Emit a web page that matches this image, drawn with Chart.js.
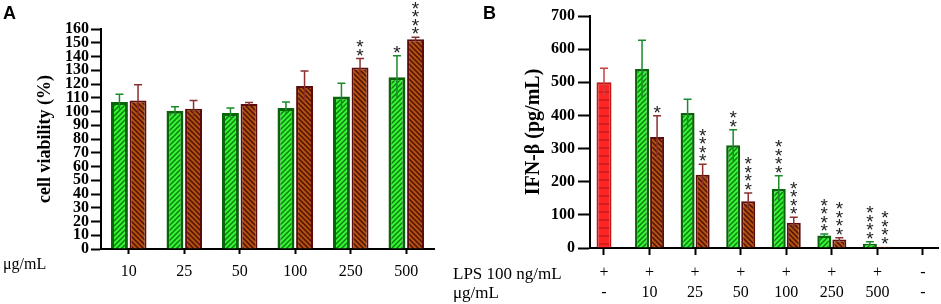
<!DOCTYPE html>
<html>
<head>
<meta charset="utf-8">
<script src="https://cdn.jsdelivr.net/npm/chart.js@4.4.0/dist/chart.umd.min.js"></script>
<style>
  html, body { margin: 0; padding: 0; background: #fff; }
  #wrap { position: relative; width: 941px; height: 304px; overflow: hidden; }
  canvas { position: absolute; top: 0; }
  #viability { left: 0; }
  #ifn { left: 450px; }
</style>
</head>
<body>
<div id="wrap">
  <canvas id="viability" width="450" height="304"></canvas>
  <canvas id="ifn" width="491" height="304"></canvas>
</div>
<script>
// Panel A - cell viability
const doseLabels = ["10", "25", "50", "100", "250", "500"];
const viabGreen = [107, 100.5, 99, 102.5, 111, 125];
const viabGreenSD = [5.5, 3, 3.5, 4.5, 9.5, 15.5];
const viabGreenStars = ["", "", "", "", "", "*"];
const viabBrown = [108, 102, 105.5, 118.5, 132, 152.5];
const viabBrownSD = [11.5, 6, 1, 11, 6.5, 1.5];
const viabBrownStars = ["", "", "", "", "**", "****"];

// Panel B - IFN-beta
const lpsRow = ["+", "+", "+", "+", "+", "+", "+", "-"];
const doseRow = ["-", "10", "25", "50", "100", "250", "500", "-"];
const ifnLps = [500, null, null, null, null, null, null, null];
const ifnLpsSD = [42, null, null, null, null, null, null, null];
const ifnGreen = [null, 540, 407, 310, 178, 38, 13, null];
const ifnGreenSD = [null, 87, 42, 47, 40, 4, 6, null];
const ifnGreenStars = ["", "", "", "**", "****", "****", "****", ""];
const ifnBrown = [null, 335, 221, 141, 76, 26, 4, null];
const ifnBrownSD = [null, 64, 32, 25, 17, 5, 0, null];
const ifnBrownStars = ["", "*", "****", "****", "****", "****", "****", ""];

Chart.defaults.font.family = "'Liberation Serif', 'Times New Roman', serif";
Chart.defaults.color = "#000";

// hatch fills like the GraphPad bars
function hatch(ctx, bg, fg, dir, size, lw) {
  const c = document.createElement("canvas");
  c.width = size;
  c.height = size;
  const g = c.getContext("2d");
  g.fillStyle = bg;
  g.fillRect(0, 0, size, size);
  g.strokeStyle = fg;
  g.lineWidth = lw;
  g.beginPath();
  if (dir === "h") {
    g.moveTo(0, size / 2);
    g.lineTo(size, size / 2);
  } else if (dir === "/") {
    g.moveTo(-1, size + 1);
    g.lineTo(size + 1, -1);
    g.moveTo(-2, 2);
    g.lineTo(2, -2);
    g.moveTo(size - 2, size + 2);
    g.lineTo(size + 2, size - 2);
  } else {
    g.moveTo(-1, -1);
    g.lineTo(size + 1, size + 1);
    g.moveTo(-2, size - 2);
    g.lineTo(2, size + 2);
    g.moveTo(size - 2, -2);
    g.lineTo(size + 2, 2);
  }
  g.stroke();
  return ctx.createPattern(c, "repeat");
}

// error bars + significance stars
const errorBars = {
  id: "errorBars",
  afterDatasetsDraw(chart) {
    const ctx = chart.ctx;
    const yScale = chart.scales.y;
    ctx.save();
    chart.data.datasets.forEach((ds, i) => {
      const meta = chart.getDatasetMeta(i);
      meta.data.forEach((bar, j) => {
        const raw = ds.data[j];
        const val = raw !== null && typeof raw === "object" ? raw.y : raw;
        if (val === null || val === undefined) return;
        const err = (ds.errors && ds.errors[j]) || 0;
        const top = yScale.getPixelForValue(val + err);
        if (err > 0) {
          const low = yScale.getPixelForValue(Math.max(val - err, 0));
          ctx.strokeStyle = ds.errorColor;
          ctx.lineWidth = 1.5;
          ctx.beginPath();
          ctx.moveTo(bar.x, low);
          ctx.lineTo(bar.x, top);
          ctx.moveTo(bar.x - 4, top);
          ctx.lineTo(bar.x + 4, top);
          ctx.stroke();
        }
        const stars = ds.stars ? ds.stars[j] : "";
        ctx.fillStyle = "#222";
        ctx.font = "19px 'Liberation Sans'";
        ctx.textAlign = "center";
        ctx.textBaseline = "alphabetic";
        for (let k = 0; k < stars.length; k++) {
          const cy = top - 8 - k * 8.5;
          ctx.fillText("*", bar.x, cy + 11);
        }
      });
    });
    ctx.restore();
  }
};

// panel letter and row captions
const panelText = {
  id: "panelText",
  afterDraw(chart, args, opts) {
    const ctx = chart.ctx;
    ctx.save();
    ctx.fillStyle = "#000";
    ctx.textAlign = "left";
    ctx.textBaseline = "alphabetic";
    ctx.font = "bold 18px 'Liberation Sans'";
    ctx.fillText(opts.letter, opts.letterX, 19);
    opts.rows.forEach((r) => {
      ctx.font = r.size + "px 'Liberation Serif'";
      ctx.fillText(r.text, 3, r.y);
    });
    ctx.restore();
  }
};

const axisGrid = (len) => ({
  drawOnChartArea: false,
  offset: false,
  tickLength: len,
  tickWidth: 2,
  tickColor: "#000"
});
const axisBorder = { color: "#000", width: 2 };

// Panel A chart
const ctxA = document.getElementById("viability").getContext("2d");
new Chart(ctxA, {
  type: "bar",
  data: {
    labels: doseLabels,
    datasets: [
      {
        data: viabGreen,
        backgroundColor: hatch(ctxA, "#33f533", "#0d7a0d", "/", 5, 1.4),
        borderColor: "#0a640a",
        borderWidth: 3,
        errors: viabGreenSD,
        errorColor: "#1a8a2a",
        stars: viabGreenStars
      },
      {
        data: viabBrown,
        backgroundColor: hatch(ctxA, "#b4500f", "#4a1005", "\\", 5, 1.4),
        borderColor: "#5c0c0c",
        borderWidth: 2,
        errors: viabBrownSD,
        errorColor: "#8a3030",
        stars: viabBrownStars
      }
    ]
  },
  options: {
    responsive: false,
    animation: false,
    events: [],
    categoryPercentage: 0.67,
    barPercentage: 0.91,
    layout: { padding: { top: 29, right: 16, bottom: 0, left: 0 } },
    plugins: {
      legend: { display: false },
      tooltip: { enabled: false },
      panelText: {
        letter: "A",
        letterX: 3,
        rows: [{ text: "μg/mL", y: 269, size: 16 }]
      }
    },
    scales: {
      x: {
        offset: true,
        grid: axisGrid(5),
        border: axisBorder,
        ticks: { font: { size: 16 }, padding: 8, maxRotation: 0, autoSkip: false },
        afterFit: (s) => { s.height = 55; }
      },
      y: {
        min: 0,
        max: 160,
        ticks: {
          stepSize: 10,
          autoSkip: false,
          padding: 2,
          font: { size: 16, weight: "bold", lineHeight: 1 }
        },
        grid: axisGrid(10),
        border: axisBorder,
        title: {
          display: true,
          text: "cell viability (%)",
          font: { size: 18, weight: "bold" },
          padding: { top: 35, bottom: 0 }
        },
        afterFit: (s) => { s.width = 101; }
      }
    }
  },
  plugins: [errorBars, panelText]
});

// Panel B chart
const toPoints = (arr) => arr.map((y, i) => ({ x: i, y: y }));
const ctxB = document.getElementById("ifn").getContext("2d");
new Chart(ctxB, {
  type: "bar",
  data: {
    datasets: [
      {
        data: toPoints(ifnLps),
        backgroundColor: hatch(ctxB, "#ff2525", "#b81818", "h", 8, 1.2),
        borderColor: "#c01515",
        borderWidth: 2,
        maxBarThickness: 15,
        errors: ifnLpsSD,
        errorColor: "#c84040"
      },
      {
        data: toPoints(ifnGreen),
        backgroundColor: hatch(ctxB, "#33f533", "#0d7a0d", "/", 5, 1.4),
        borderColor: "#0a640a",
        borderWidth: 2.5,
        maxBarThickness: 15,
        errors: ifnGreenSD,
        errorColor: "#1a8a2a",
        stars: ifnGreenStars
      },
      {
        data: toPoints(ifnBrown),
        backgroundColor: hatch(ctxB, "#b4500f", "#4a1005", "\\", 5, 1.4),
        borderColor: "#5c0c0c",
        borderWidth: 2,
        maxBarThickness: 15,
        errors: ifnBrownSD,
        errorColor: "#8a3030",
        stars: ifnBrownStars
      }
    ]
  },
  options: {
    responsive: false,
    animation: false,
    events: [],
    skipNull: true,
    categoryPercentage: 0.66,
    barPercentage: 0.93,
    layout: { padding: { top: 16, right: 3, bottom: 0, left: 0 } },
    plugins: {
      legend: { display: false },
      tooltip: { enabled: false },
      panelText: {
        letter: "B",
        letterX: 33,
        rows: [
          { text: "LPS 100 ng/mL", y: 279, size: 17 },
          { text: "μg/mL", y: 298, size: 17 }
        ]
      }
    },
    scales: {
      x: {
        type: "linear",
        offset: false,
        min: -0.307,
        max: 7.33,
        afterBuildTicks: (s) => {
          s.ticks = doseRow.map((_, i) => ({ value: i }));
        },
        grid: axisGrid(7),
        border: axisBorder,
        ticks: {
          callback: (v) => [lpsRow[v], doseRow[v]],
          font: { size: 16, lineHeight: 1.25 },
          padding: 8,
          maxRotation: 0,
          autoSkip: false
        },
        afterFit: (s) => { s.height = 56; }
      },
      y: {
        min: 0,
        max: 700,
        ticks: {
          stepSize: 100,
          padding: 3,
          font: { size: 16, weight: "bold" }
        },
        grid: axisGrid(12),
        border: axisBorder,
        title: {
          display: true,
          text: "IFN-β (pg/mL)",
          font: { size: 20, weight: "bold" },
          padding: { top: 72, bottom: 0 }
        },
        afterFit: (s) => { s.width = 140; }
      }
    }
  },
  plugins: [errorBars, panelText]
});
</script>
</body>
</html>
